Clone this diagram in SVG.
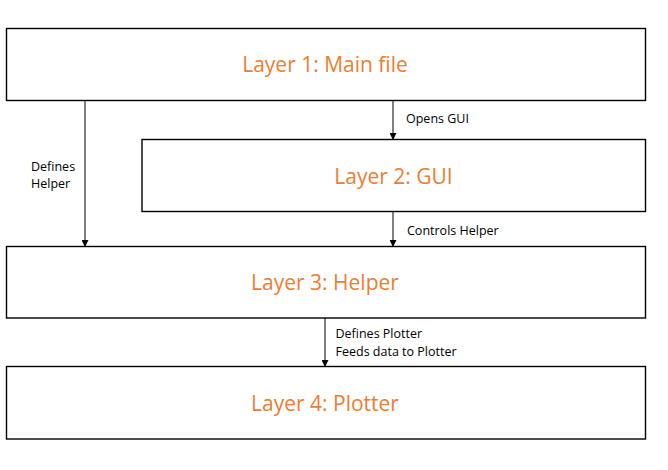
<svg xmlns="http://www.w3.org/2000/svg" width="668" height="470" viewBox="0 0 668 470">
<style>
.box{fill:#fff;stroke:#000;stroke-width:1.4}
.title{font-family:"Open Sans","Liberation Sans",sans-serif;font-size:21px;fill:#ED7D31;text-anchor:middle}
.lbl{font-family:"Open Sans","Liberation Sans",sans-serif;font-size:12.5px;fill:#000}
.conn{stroke:#000;stroke-width:1;fill:none;marker-end:url(#ah)}
</style>
<defs>
<marker id="ah" markerWidth="7" markerHeight="7" refX="6" refY="3.5" orient="auto" markerUnits="userSpaceOnUse">
<path d="M0,0 L7,3.5 L0,7 Z" fill="#000"/>
</marker>
</defs>
<rect width="668" height="470" fill="#fff"/>
<g id="layer1"><rect class="box" x="6.5" y="28.5" width="639" height="72"/><text class="title" x="325" y="72">Layer 1: Main file</text></g>
<g id="layer2"><rect class="box" x="142" y="139.5" width="503.5" height="72"/><text class="title" x="393.5" y="184">Layer 2: GUI</text></g>
<g id="layer3"><rect class="box" x="6.5" y="246.5" width="639" height="71.5"/><text class="title" x="325" y="290">Layer 3: Helper</text></g>
<g id="layer4"><rect class="box" x="6.5" y="366.5" width="639" height="72.5"/><text class="title" x="325" y="411">Layer 4: Plotter</text></g>
<g id="connectors">
<line class="conn" x1="85" y1="101" x2="85" y2="246"/>
<line class="conn" x1="393" y1="101" x2="393" y2="139"/>
<line class="conn" x1="393" y1="212" x2="393" y2="246"/>
<line class="conn" x1="325" y1="318" x2="325" y2="366"/>
<text class="lbl" x="31" y="171">Defines</text>
<text class="lbl" x="31" y="188">Helper</text>
<text class="lbl" x="406" y="123">Opens GUI</text>
<text class="lbl" x="407" y="235">Controls Helper</text>
<text class="lbl" x="335.5" y="338">Defines Plotter</text>
<text class="lbl" x="335.5" y="356">Feeds data to Plotter</text>
</g>
</svg>
